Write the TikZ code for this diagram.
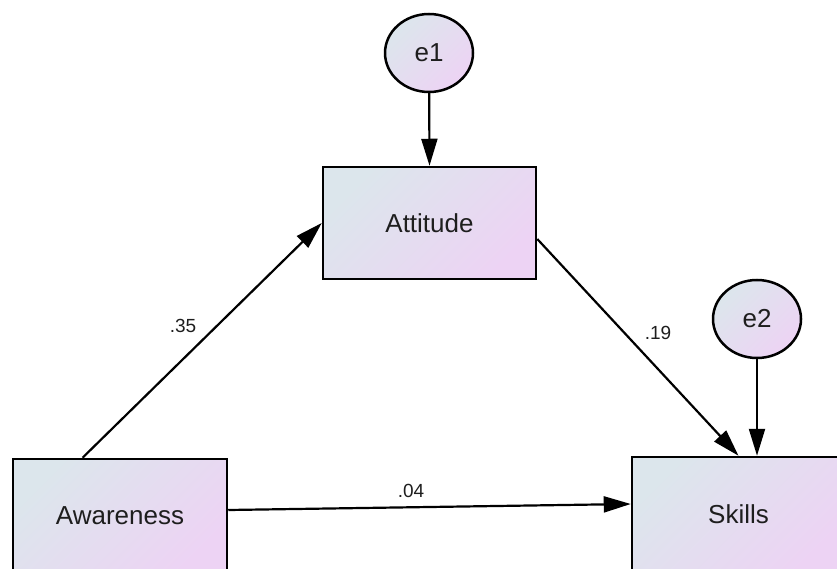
\documentclass[tikz,border=0pt]{standalone}
\usepackage{fontspec}
\setmainfont{Liberation Sans}
\usetikzlibrary{arrows.meta,calc,shapes.geometric}
\definecolor{cA}{RGB}{220,230,236}
\definecolor{cB}{RGB}{237,211,244}
\definecolor{txt}{RGB}{30,30,30}
\tikzset{
  var/.style={draw=black, line width=2.5pt, left color=cA, right color=cB, shading angle=45,
    rectangle, minimum width=213pt, minimum height=112pt, inner sep=0pt,
    font=\fontsize{26}{31}\selectfont, text=txt},
  err/.style={draw=black, line width=2.5pt, left color=cA, right color=cB, shading angle=45,
    ellipse, minimum width=88pt, minimum height=78pt, inner sep=0pt,
    font=\fontsize{26}{31}\selectfont, text=txt},
  path/.style={line width=2.2pt, draw=black, -{Triangle[length=27pt,width=16pt]}},
  lbl/.style={font=\fontsize{19}{22}\selectfont, text=txt, inner sep=0pt}
}
\begin{document}
\begin{tikzpicture}[x=1pt,y=-1pt]
\useasboundingbox (0,0) rectangle (837,569);
\clip (0,0) rectangle (837,569);
\node[err] (e1) at (429,53) {e1};
\node[err] (e2) at (757,319) {e2};
\node[var] (att) at (429.5,223) {Attitude};
\node[var, minimum width=214pt, minimum height=114pt] (aw) at (120,516) {Awareness};
\node[var, minimum height=114pt] (sk) at (738.5,514) {Skills};
\draw[path] (e1) -- (att.north);
\draw[path] (e2.south) -- ($(sk.north)+(18.5,0)$);
\draw[path] ($(aw.north west)!0.327!(aw.north east)$) -- (att.west);
\draw[path] ($(att.east)+(0,16)$) -- (sk.north);
\draw[path] ($(aw.east)+(0,-6)$) -- ($(sk.west)+(0,-10)$);
\node[lbl] (l35) at (183,326) {.35};
\node[lbl] (l19) at (658,333) {.19};
\node[lbl] (l04) at (411,491) {.04};
\end{tikzpicture}
\end{document}
